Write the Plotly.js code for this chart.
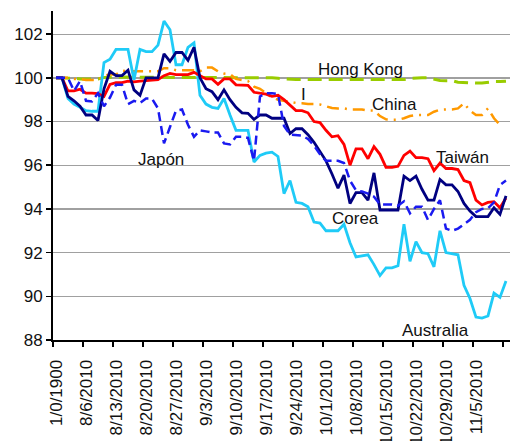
<!DOCTYPE html>
<html><head><meta charset="utf-8">
<script src="https://cdn.plot.ly/plotly-3.0.1.min.js"></script>
<style>html,body{margin:0;padding:0;background:#fff}#chart{width:510px;height:441px}</style>
</head><body><div id="chart"></div>
<script>
const dates = ["1/0/1900",
"8/2/2010","8/3/2010","8/4/2010","8/5/2010","8/6/2010",
"8/9/2010","8/10/2010","8/11/2010","8/12/2010","8/13/2010",
"8/16/2010","8/17/2010","8/18/2010","8/19/2010","8/20/2010",
"8/23/2010","8/24/2010","8/25/2010","8/26/2010","8/27/2010",
"8/30/2010","8/31/2010","9/1/2010","9/2/2010","9/3/2010",
"9/6/2010","9/7/2010","9/8/2010","9/9/2010","9/10/2010",
"9/13/2010","9/14/2010","9/15/2010","9/16/2010","9/17/2010",
"9/20/2010","9/21/2010","9/22/2010","9/23/2010","9/24/2010",
"9/27/2010","9/28/2010","9/29/2010","9/30/2010","10/1/2010",
"10/4/2010","10/5/2010","10/6/2010","10/7/2010","10/8/2010",
"10/11/2010","10/12/2010","10/13/2010","10/14/2010","10/15/2010",
"10/18/2010","10/19/2010","10/20/2010","10/21/2010","10/22/2010",
"10/25/2010","10/26/2010","10/27/2010","10/28/2010","10/29/2010",
"11/1/2010","11/2/2010","11/3/2010","11/4/2010","11/5/2010",
"11/8/2010","11/9/2010","11/10/2010","11/11/2010","11/12/2010"];

const tickLabels = ["1/0/1900","8/6/2010","8/13/2010","8/20/2010","8/27/2010","9/3/2010","9/10/2010","9/17/2010","9/24/2010","10/1/2010","10/8/2010","10/15/2010","10/22/2010","10/29/2010","11/5/2010","11/12/2010"];

const hongKong = [100,100,100,99.98,99.95,99.95,99.95,99.95,100.02,100.03,
100.03,100.04,100.04,100.03,100.03,100.03,100.03,100.03,100.02,100.02,
100.02,100.02,100.02,100.01,100,100,100,100,100,100,
100,100,100,100,100,100,100,99.98,99.96,99.92,
99.92,99.92,99.92,99.92,99.92,99.92,99.92,99.92,99.92,99.92,
99.9,99.9,99.9,99.9,99.9,99.9,99.9,99.9,99.92,99.98,
100,100,100,99.95,99.88,99.87,99.87,99.8,99.78,99.76,
99.76,99.76,99.8,99.83,99.83,99.85];

const china = [100,100,100,99.95,99.95,99.9,99.9,99.9,100.1,100.15,
100.15,100.33,100.3,100.3,100.3,100.3,100.3,100.3,100.44,100.44,
100.35,100.35,100.35,100.35,100.3,100.47,100.47,100.3,100.2,100.17,
99.95,99.9,99.85,99.6,99.5,99.3,99.1,99.0,98.95,98.9,
98.85,98.84,98.8,98.8,98.78,98.7,98.62,98.6,98.6,98.55,
98.55,98.55,98.5,98.5,98.25,98.1,98.08,98.08,98.15,98.25,
98.3,98.3,98.3,98.45,98.54,98.55,98.55,98.6,98.84,98.5,
98.3,98.3,98.6,98.15,97.85,null];

const taiwan = [100,100,99.4,99.4,99.48,99.3,99.3,99.28,99.15,99.7,
99.78,99.78,99.85,99.82,99.85,99.87,99.9,99.92,100.1,100.2,
100.15,100.15,100.15,100.25,100.1,99.95,99.95,99.7,99.95,99.95,
99.68,99.66,99.66,99.34,99.28,99.25,99.15,99.2,99.0,98.77,
98.5,98.5,98.4,98.0,97.95,97.6,97.3,97.35,96.95,96.0,
96.75,96.75,96.3,96.85,96.5,95.9,95.9,95.95,96.45,96.65,
96.35,96.35,96.3,95.75,96.1,95.85,95.85,95.8,95.3,95.2,
94.4,94.18,94.3,94.33,94.05,94.5];

const corea = [100,100,99.15,98.95,98.7,98.3,98.3,98.05,99.5,100.3,
100.1,100.1,100.35,99.45,99.2,100.0,100.0,100.0,101.1,100.75,
101.16,101.16,100.8,101.4,100.0,99.5,99.37,99.0,99.45,99.0,
98.65,98.4,98.38,98.1,98.3,98.3,98.15,98.15,98.15,97.45,
97.67,97.67,97.4,97.05,96.6,96.2,95.6,94.95,95.55,94.25,
94.75,94.75,94.4,95.65,93.95,93.95,93.95,93.95,95.5,95.3,
95.5,94.9,94.4,94.4,95.35,95.1,95.1,94.8,94.25,93.9,
93.65,93.65,93.65,94.05,93.75,94.6];

const japon = [100,100,100,99.4,99.85,98.95,98.92,99.3,98.7,99.1,
99.68,99.68,98.8,98.95,98.85,99.05,99.05,98.6,97.0,97.75,
98.5,98.55,97.85,97.3,97.6,97.55,97.5,97.5,97.0,96.95,
97.3,97.3,97.25,96.2,99.15,99.3,99.3,99.25,97.8,97.4,
97.38,97.36,97.2,96.9,96.5,96.2,96.2,96.2,96.1,95.3,
94.85,94.8,94.7,94.56,94.2,94.2,94.2,94.15,94.35,93.8,
94.1,94.1,93.5,94.0,94.4,93.1,93.0,93.1,93.3,93.5,
93.85,94.0,94.03,94.3,95.1,95.3];

const australia = [100,100,99.05,98.8,98.65,98.5,98.47,98.47,100.7,100.85,
101.3,101.3,101.3,99.9,101.3,101.2,101.2,101.5,102.6,102.2,
100.6,100.6,101.4,101.6,99.2,98.8,98.65,98.6,99.05,98.3,
97.6,97.6,97.6,96.15,96.45,96.55,96.6,96.4,94.7,95.3,
94.3,94.25,94.1,93.4,93.35,93.0,93.0,93.0,93.3,92.45,
91.8,91.85,91.9,91.45,90.95,91.3,91.3,91.4,93.3,91.6,
92.5,92.0,91.95,91.35,93.0,92.0,91.95,91.9,90.5,89.9,
89.05,89.0,89.1,90.15,89.95,90.7];

const xIdx = dates.map((d, i) => i);
const tickIdx = tickLabels.map(l => dates.indexOf(l));
const boundaryIdx = tickIdx.map(v => v - 0.5);

const FONT = "Arial, 'Liberation Sans', sans-serif";

function line(y, color, width, dash, name) {
  return {x: xIdx, y: y, type: 'scatter', mode: 'lines', name: name,
    line: {color: color, width: width, dash: dash}, connectgaps: false,
    hoverinfo: 'skip', showlegend: false};
}

const traces = [
  line(hongKong, '#99CC00', 3, '14px,7px', 'Hong Kong'),
  line(china, '#FF9900', 2.5, '12px,6px,2px,6px', 'China'),
  line(australia, '#1FCBF7', 2.8, 'solid', 'Australia'),
  line(taiwan, '#FF0000', 2.8, 'solid', 'Taiwán'),
  line(corea, '#000080', 2.8, 'solid', 'Corea'),
  line(japon, '#1A1AF0', 2.5, '9px,5px', 'Japón')
];

function lab(text, xi, yv) {
  return {text: text, x: xi, y: yv, xref: 'x', yref: 'y', showarrow: false,
    font: {family: FONT, size: 17, color: '#111'}, xanchor: 'center', yanchor: 'middle'};
}

const layout = {
  width: 510, height: 441,
  margin: {l: 53, r: 0, t: 11, b: 101, pad: 0},
  paper_bgcolor: '#fff', plot_bgcolor: '#fff',
  showlegend: false,
  xaxis: {
    type: 'linear', range: [-0.5, 75.67],
    tickmode: 'array', tickvals: tickIdx, ticktext: tickLabels,
    tickangle: -90, ticks: '', ticklabelstandoff: 11,
    tickfont: {family: FONT, size: 17, color: '#111'},
    showgrid: false, zeroline: false,
    showline: true, linecolor: '#000', linewidth: 2,
    minor: {tickmode: 'array', tickvals: boundaryIdx, ticks: 'outside', ticklen: 5,
      tickwidth: 1.5, tickcolor: '#000', showgrid: false}
  },
  yaxis: {
    range: [88, 103.06],
    tickmode: 'array', tickvals: [88, 90, 92, 94, 96, 98, 100, 102],
    ticks: 'outside', ticklen: 5, tickwidth: 1.5, tickcolor: '#000',
    tickfont: {family: FONT, size: 17, color: '#111'},
    showgrid: true, gridcolor: '#a0a0a0', gridwidth: 1.3,
    zeroline: false, showline: true, linecolor: '#000', linewidth: 2
  },
  annotations: [
    lab('Hong Kong', 50.7, 100.36),
    lab('China', 56.5, 98.8),
    lab('Taiwán', 67.7, 96.37),
    lab('Japón', 17.5, 96.24),
    lab('Corea', 50, 93.58),
    lab('Australia', 63.2, 88.42),
    lab('I', 41.2, 99.24)
  ]
};

Plotly.newPlot('chart', traces, layout, {staticPlot: true, displayModeBar: false});
</script>
</body></html>
